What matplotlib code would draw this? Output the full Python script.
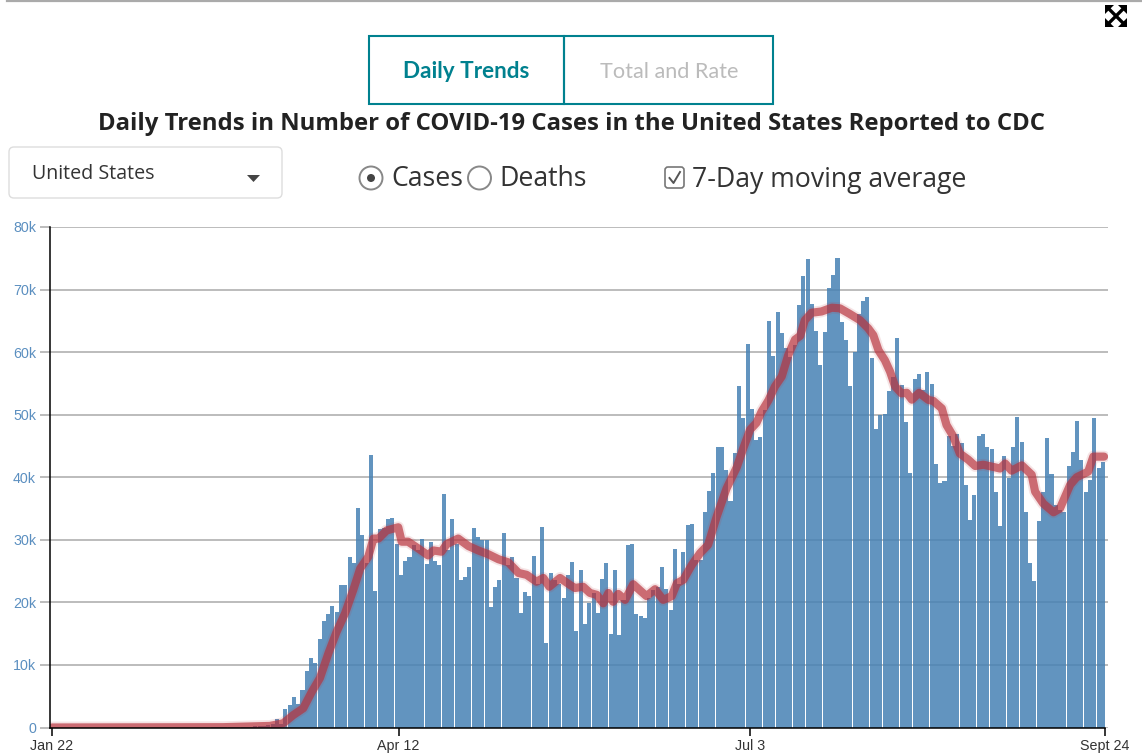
import matplotlib
matplotlib.use('Agg')
import matplotlib.pyplot as plt
from matplotlib.patches import Rectangle, FancyBboxPatch, Circle, Polygon

# daily cases in thousands, Jan 22 to Sept 24
early_cases = [0] * 38 + [0.02, 0.02, 0.03, 0.04, 0.05, 0.07, 0.1, 0.1, 0.15, 0.15, 0.2, 0.25, 0.3, 0.35, 0.5]
later_cases = [
    1.3, 0.6, 2.96, 3.6, 4.9, 3.75, 6.0, 9.0, 11.1, 10.3, 14.1, 17.0, 18.1, 19.4,
    18.5, 22.8, 22.8, 27.3, 26.3, 35.1, 30.8, 26.3, 43.6, 21.8, 31.7, 31.9, 33.3, 33.5, 29.3,
    24.4, 26.6, 27.3, 29.2, 28.4, 30.1, 26.1, 29.7, 26.6, 26.0, 37.3, 28.4, 33.3, 29.3, 23.6,
    24.1, 25.7, 31.9, 30.5, 30, 30, 19.3, 22.5, 23.6, 31.1, 26, 27.2, 23.9, 18.3,
    21.7, 21.0, 27.4, 23.0, 32.0, 13.5, 24.7, 23.6, 22.9, 20.7, 24.4, 26.5, 15.4, 25.2, 16.5,
    19.9, 21.5, 18.3, 23.7, 26.3, 15, 25.2, 14.8, 20.4, 29.2, 29.3, 18.1, 17.8, 17.5, 20.7,
    22, 22.5, 25.7, 22.1, 18.8, 28.5, 23, 28.1, 32.4, 32.5, 26.8, 26.8, 34.4, 37.8, 40.7,
    44.8, 44.8, 41.2, 36.2, 43.9, 54.6, 49.5, 61.3, 50.9, 46, 46.4, 50.7, 65, 59.4,
    66.4, 63.1, 60.7, 59.3, 61.1, 67.5, 72.2, 74.9, 67.7, 63.4, 57.9, 63.2, 70.2, 72.3, 75.1,
    64.8, 62, 54.6, 60, 66.1, 68.2, 68.8, 59.1, 47.7, 50, 50.1, 53.8, 56, 62.3, 54.8,
    48.8, 40.7, 55.7, 56.5, 54, 56.8, 54.9, 42.1, 39.1, 39.4, 46.6, 45, 46.9, 45.5, 38.8,
    33.2, 37.2, 46.6, 46.9, 44.8, 44.5, 37.6, 32.2, 43.4, 39.9, 44.8, 49.6, 45.6, 34.4,
    26.3, 23.4, 33, 37.6, 46.3, 40.5, 35.6, 34.8, 34.4, 41.8, 44, 49, 42.8, 37.6, 39.6,
    49.5, 41.5, 42.4,
]
cases = early_cases + later_cases
days = list(range(len(cases)))

# 7-day average: day number and thousands
ma_days = [
    0, 40, 50.9, 54, 56.4, 58.7, 60.7, 62.6, 64.6, 66.5, 68.5, 70.4, 72, 73.9, 75.1, 76.3, 78.2,
    80.9, 81.7, 83.2, 85.6, 87.9, 89.1, 91, 92.2, 94.9, 97.3, 99.6, 101.9, 104.3, 106.6, 109,
    110.9, 113.2, 114.8, 116.2, 118.7, 121, 122.2, 124.1, 125.7, 127.3, 128.8, 130, 131.1,
    132.3, 133.9, 135.8, 137.4, 138.9, 140.9, 142.8, 144.8, 146, 147.5, 149.5, 151.4, 153.3,
    155.3, 157.6, 160, 161.5, 163.1, 164.6, 165.8, 167.4, 168.9, 170.5, 172, 173.6, 174.8,
    175.9, 177.5, 179.8, 182.2, 184.1, 186.4, 188.8, 190.7, 191.9, 193.1, 194.6, 195.8, 197,
    198.5, 199.7, 200.9, 202.6, 204.8, 205.9, 207.9, 209, 210.6, 212.1, 214.1, 215.7, 217.6,
    219.6, 221.5, 222.7, 224.2, 226.6, 228.9, 229.7, 231.6, 234, 235.5, 237.9, 239.4, 242.1,
    243.3, 245.8,
]
ma_cases = [
    0, 0.05, 0.25, 0.67, 2.0, 3.07, 5.7, 7.9, 11.9, 15.3, 18.3, 22, 25.4, 27.3, 30.2, 30.2, 31.5,
    32, 29.7, 29.7, 28.6, 27.5, 28.3, 28.1, 29.3, 30.2, 29, 28.3, 27.7, 26.9, 26.4, 24.7,
    24.4, 23.3, 23.9, 22.5, 23.9, 22.8, 22.3, 22.5, 21.5, 21.2, 19.85, 21.5, 20.1,
    21.35, 20.4, 22.9, 21.9, 21, 22.1, 20.4, 21, 23.05, 23.6, 26, 27.85, 29.2,
    33.7, 38.2, 41.6, 44.6, 47.6, 48.7, 50.5, 52.3, 54.5, 56.1, 59.5, 62, 62.6,
    65.1, 66.3, 66.5, 67.1, 67, 66.1, 65.1, 63.8, 62.7, 60.3, 58.7, 56.9, 54.5,
    53.4, 53.5, 52.4, 53.5, 52.35, 52.2, 51, 48.35, 46.5, 43.8, 42.8, 41.8, 42,
    41.7, 41.4, 42.2, 41.05, 41.9, 40.4, 37.7, 35.8, 34.4, 35, 38.8, 40, 40.9,
    43.3, 43.3,
]

y_ticks = [0, 10, 20, 30, 40, 50, 60, 70, 80]
y_labels = ['0', '10k', '20k', '30k', '40k', '50k', '60k', '70k', '80k']
x_ticks = [0, 81, 163, 246]
x_labels = ['Jan 22', 'Apr 12', 'Jul 3', 'Sept 24']

W, H = 1142, 755
fig = plt.figure(figsize=(W / 100, H / 100), dpi=100)

# plot area, placed by pixel
left, right, top, bottom = 50, 1108, 227, 727.5
ax = fig.add_axes([left / W, 1 - bottom / H, (right - left) / W, (bottom - top) / H])
ax.set_xlim(-2 / 4.28, (right - 52) / 4.28)
ax.set_ylim(0, 80)
ax.set_axisbelow(True)
ax.yaxis.grid(True, color='#aaaaaa', lw=1.1)

ax.bar(days, cases, width=-0.945, align='edge', color='steelblue', alpha=0.85, lw=0, zorder=2)
ax.plot(ma_days, ma_cases, color='#b8323c', lw=8.5, alpha=0.13, zorder=3,
        solid_capstyle='round', solid_joinstyle='round')
ax.plot(ma_days, ma_cases, color='#b8323c', lw=5.9, alpha=0.68, zorder=4,
        solid_capstyle='round', solid_joinstyle='round')

for s in ['top', 'right']:
    ax.spines[s].set_visible(False)
for s in ['left', 'bottom']:
    ax.spines[s].set_color('black')
    ax.spines[s].set_linewidth(1.1)
    ax.spines[s].set_zorder(5)
ax.spines['bottom'].set_bounds(-2 / 4.28, 246)

ax.set_yticks(y_ticks)
ax.set_yticklabels(y_labels, family='Liberation Sans', fontsize=10.3, color='#5b8fc0')
ax.set_xticks(x_ticks)
ax.set_xticklabels(x_labels, family='Liberation Sans', fontsize=10.3, color='#333333')
ax.tick_params(axis='y', length=7.5, width=1.1, color='#aaaaaa', pad=2.5)
ax.tick_params(axis='x', length=5.5, width=1.1, color='black', pad=3)
for t in [ax.yaxis.get_major_ticks()[0], ax.yaxis.get_major_ticks()[-1]]:
    t.tick1line.set_color('black')

# page furniture on top, in pixel coordinates
ui = fig.add_axes([0, 0, 1, 1], facecolor='none')
ui.set_xlim(0, W)
ui.set_ylim(H, 0)
ui.axis('off')

ui.plot([7, W], [1, 1], color='#aaaaaa', lw=1.6)

teal = '#00818f'
ui.add_patch(Rectangle((369, 36), 195, 68, fill=False, ec=teal, lw=1.5))
ui.add_patch(Rectangle((564, 36), 209, 68, fill=False, ec=teal, lw=1.5))
ui.text(466.5, 72, 'Daily Trends', family='Lato', weight='bold', fontsize=16.2, color=teal,
        ha='center', va='center')
ui.text(669, 72, 'Total and Rate', family='Lato', fontsize=15.6, color='#bbbbbb',
        ha='center', va='center')
ui.text(571.5, 123.5, 'Daily Trends in Number of COVID-19 Cases in the United States Reported to CDC',
        family='Open Sans', weight='bold', fontsize=17.2, color='#222222', ha='center', va='center')

ui.add_patch(FancyBboxPatch((14, 152), 263, 41, boxstyle='round,pad=5,rounding_size=5',
                            fc='white', ec='#dddddd', lw=1))
ui.text(32, 174, 'United States', family='Open Sans', fontsize=14.1, color='#333333', va='center')
ui.add_patch(Polygon([(247, 175), (260, 175), (253.5, 182)], fc='#444444', ec='none'))

ui.add_patch(Circle((371, 178), 11.5, fc='white', ec='#888888', lw=1.4))
ui.add_patch(Circle((371, 178), 4, fc='#444444', ec='none'))
ui.add_patch(Circle((479.5, 178), 11.5, fc='white', ec='#888888', lw=1.4))
ui.text(391, 179.5, 'Cases', family='Open Sans', fontsize=19.15, color='#333333', va='center')
ui.text(499, 179.5, 'Deaths', family='Open Sans', fontsize=19.15, color='#333333', va='center')

ui.add_patch(FancyBboxPatch((667, 169), 15, 17, boxstyle='round,pad=2,rounding_size=3',
                            fc='white', ec='#777777', lw=1.2))
ui.plot([669.5, 673.5, 680], [178, 183, 172], color='#555555', lw=1.4)
ui.text(692, 179.5, '7-Day moving average', family='Open Sans', fontsize=19.15, color='#333333', va='center')

# expand icon
ui.plot([1109, 1123], [9, 23], color='black', lw=2.4)
ui.plot([1109, 1123], [23, 9], color='black', lw=2.4)
for cx, cy, sx, sy in [(1105, 5, 1, 1), (1127, 5, -1, 1), (1105, 27, 1, -1), (1127, 27, -1, -1)]:
    ui.add_patch(Polygon([(cx, cy), (cx + 9 * sx, cy), (cx, cy + 9 * sy)], fc='black', ec='none'))

fig.savefig('out.png', dpi=100)
